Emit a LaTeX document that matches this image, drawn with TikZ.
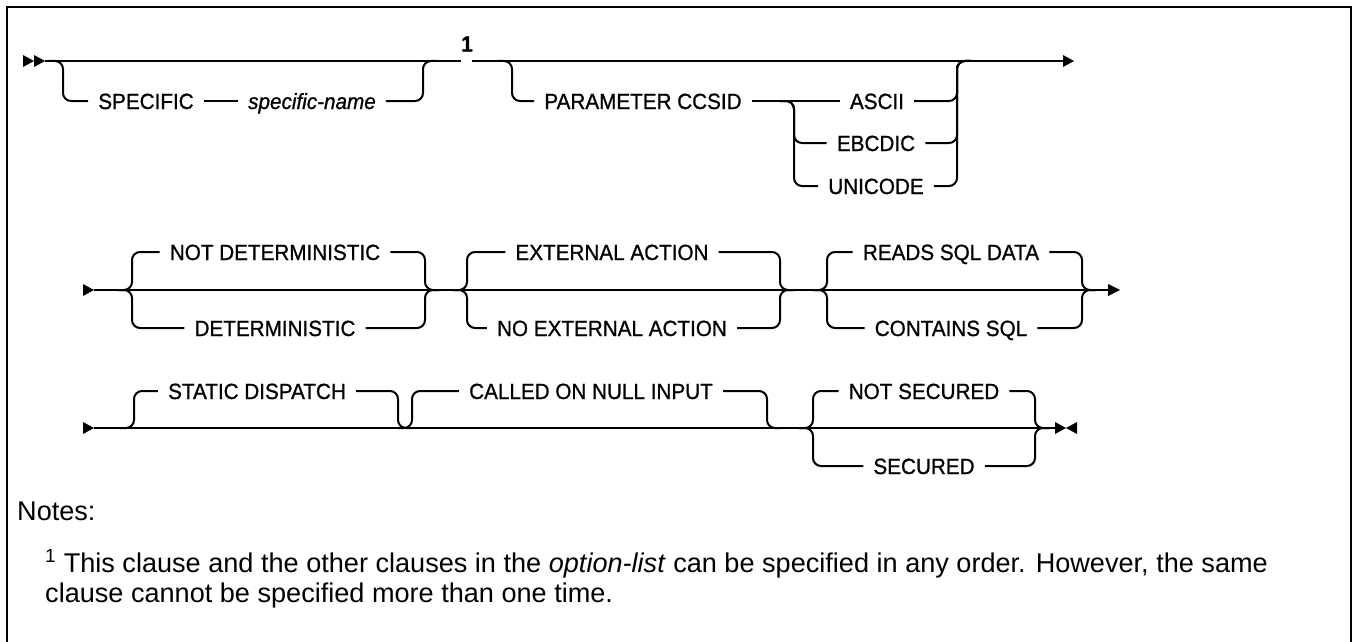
\documentclass[tikz,border=0pt]{standalone}
\usepackage{fontspec}
\setmainfont{Liberation Sans}
\newfontfamily\lblfont[FakeBold=0.9,FakeStretch=0.94]{Liberation Sans}
\begin{document}
\begin{tikzpicture}[x=1pt,y=-1pt,
  rail/.style={line width=2pt, rounded corners=8pt},
  lbl/.style={font=\lblfont\fontsize{22}{26}\selectfont, inner xsep=10pt, inner ysep=0pt, text height=16pt, text depth=0pt},
  ilbl/.style={lbl, font=\lblfont\fontsize{22}{26}\selectfont\itshape},
  note/.style={font=\fontsize{27.1}{31}\selectfont, inner sep=0pt, anchor=base west},
  tipfill/.style={fill=black}]
\useasboundingbox (0,0) rectangle (1354,642);
% frame
\draw[line width=2.5pt] (7,642) -- (7,7) -- (1351,7) -- (1351,642);

% ================= line 1 =================
\coordinate (L1a) at (45,61);
\coordinate (L1g) at (461,61);
\coordinate (L1h) at (472,61);
\coordinate (L1z) at (1063,61);
\coordinate (d1) at (63,61);
\coordinate (u1) at (423,61);
\coordinate (d2) at (512,61);
\coordinate (k1) at (794,101);
\coordinate (u2) at (957,61);
\fill[tipfill] (23,55) -- (34,61) -- (23,67) -- cycle;
\fill[tipfill] (34,55) -- (45,61) -- (34,67) -- cycle;
\draw[rail] (L1a) -- (L1g);
\draw[rail] (L1h) -- (L1z);
\fill[tipfill] (1063,55) -- (1074,61) -- (1063,67) -- cycle;
\node[font=\lblfont\fontsize{22}{26}\selectfont\bfseries, inner sep=0pt] (fn) at (467,44) {1};

\node[lbl] (spec) at (146,101) {SPECIFIC};
\node[ilbl] (specn) at (312,101) {specific-name};
\draw[rail] ([xshift=-14pt]d1) -- (d1) -- (d1 |- spec) -- (spec.west);
\draw[rail] (spec.east) -- (specn.west);
\draw[rail] (specn.east) -- (u1 |- specn) -- (u1) -- ([xshift=14pt]u1);

\node[lbl] (par) at (643,101) {PARAMETER CCSID};
\node[lbl] (ascii) at (877,101) {ASCII};
\node[lbl] (ebc) at (876,143) {EBCDIC};
\node[lbl] (uni) at (876,186) {UNICODE};
\draw[rail] ([xshift=-14pt]d2) -- (d2) -- (d2 |- par) -- (par.west);
\draw[rail] (par.east) -- (ascii.west);
\draw[rail] ([xshift=-14pt]k1) -- (k1) -- (k1 |- ebc) -- (ebc.west);
\draw[rail] ([xshift=-14pt]k1) -- (k1) -- (k1 |- uni) -- (uni.west);
\draw[rail] (ascii.east) -- (u2 |- ascii) -- (u2) -- ([xshift=14pt]u2);
\draw[rail] (ebc.east) -- (u2 |- ebc) -- (u2) -- ([xshift=14pt]u2);
\draw[rail] (uni.east) -- (u2 |- uni) -- (u2) -- ([xshift=14pt]u2);

% ================= line 2 =================
\coordinate (L2a) at (94,290);
\coordinate (L2z) at (1108,290);
\coordinate (A1) at (132,290);
\coordinate (A2) at (425,290);
\coordinate (B1) at (467,290);
\coordinate (B2) at (780,290);
\coordinate (C1) at (827,290);
\coordinate (C2) at (1082,290);
\fill[tipfill] (83,284) -- (94,290) -- (83,296) -- cycle;
\draw[rail] (L2a) -- (L2z);
\fill[tipfill] (1108,284) -- (1120,290) -- (1108,296) -- cycle;

\node[lbl] (nd) at (275,252) {NOT DETERMINISTIC};
\node[lbl] (det) at (275,328) {DETERMINISTIC};
\draw[rail] ([xshift=-14pt]A1) -- (A1) -- (A1 |- nd) -- (nd.west);
\draw[rail] ([xshift=-14pt]A1) -- (A1) -- (A1 |- det) -- (det.west);
\draw[rail] (nd.east) -- (A2 |- nd) -- (A2) -- ([xshift=14pt]A2);
\draw[rail] (det.east) -- (A2 |- det) -- (A2) -- ([xshift=14pt]A2);

\node[lbl] (ea) at (612,252) {EXTERNAL ACTION};
\node[lbl] (nea) at (612,328) {NO EXTERNAL ACTION};
\draw[rail] ([xshift=-14pt]B1) -- (B1) -- (B1 |- ea) -- (ea.west);
\draw[rail] ([xshift=-14pt]B1) -- (B1) -- (B1 |- nea) -- (nea.west);
\draw[rail] (ea.east) -- (B2 |- ea) -- (B2) -- ([xshift=14pt]B2);
\draw[rail] (nea.east) -- (B2 |- nea) -- (B2) -- ([xshift=14pt]B2);

\node[lbl] (rsd) at (951,252) {READS SQL DATA};
\node[lbl] (cs) at (951,328) {CONTAINS SQL};
\draw[rail] ([xshift=-14pt]C1) -- (C1) -- (C1 |- rsd) -- (rsd.west);
\draw[rail] ([xshift=-14pt]C1) -- (C1) -- (C1 |- cs) -- (cs.west);
\draw[rail] (rsd.east) -- (C2 |- rsd) -- (C2) -- ([xshift=14pt]C2);
\draw[rail] (cs.east) -- (C2 |- cs) -- (C2) -- ([xshift=14pt]C2);

% ================= line 3 =================
\coordinate (L3a) at (94,428);
\coordinate (L3z) at (1055,428);
\coordinate (S1) at (134,428);
\coordinate (S2) at (398,428);
\coordinate (N1) at (412,428);
\coordinate (N2) at (767,428);
\coordinate (Q1) at (813,428);
\coordinate (Q2) at (1035,428);
\fill[tipfill] (83,422) -- (94,428) -- (83,434) -- cycle;
\draw[rail] (L3a) -- (L3z);
\fill[tipfill] (1055,422) -- (1066,428) -- (1055,434) -- cycle;
\fill[tipfill] (1077,422) -- (1066,428) -- (1077,434) -- cycle;

\node[lbl] (sd) at (257,391) {STATIC DISPATCH};
\draw[rail] ([xshift=-14pt]S1) -- (S1) -- (S1 |- sd) -- (sd.west);
\draw[rail] (sd.east) -- (S2 |- sd) -- (S2) -- ([xshift=14pt]S2);

\node[lbl] (con) at (591,391) {CALLED ON NULL INPUT};
\draw[rail] ([xshift=-14pt]N1) -- (N1) -- (N1 |- con) -- (con.west);
\draw[rail] (con.east) -- (N2 |- con) -- (N2) -- ([xshift=14pt]N2);

\node[lbl] (ns) at (924,391) {NOT SECURED};
\node[lbl] (sec) at (924,466) {SECURED};
\draw[rail] ([xshift=-14pt]Q1) -- (Q1) -- (Q1 |- ns) -- (ns.west);
\draw[rail] ([xshift=-14pt]Q1) -- (Q1) -- (Q1 |- sec) -- (sec.west);
\draw[rail] (ns.east) -- (Q2 |- ns) -- (Q2) -- ([xshift=14pt]Q2);
\draw[rail] (sec.east) -- (Q2 |- sec) -- (Q2) -- ([xshift=14pt]Q2);

% ================= notes =================
\node[note] (notes) at (17,520) {Notes:};
\node[note] (fn1) at (45,572) {\textsuperscript{1} This clause and the other clauses in the \textit{option-list} can be specified in any order. However, the same};
\node[note] (fn2) at (45,602) {clause cannot be specified more than one time.};
\end{tikzpicture}
\end{document}
